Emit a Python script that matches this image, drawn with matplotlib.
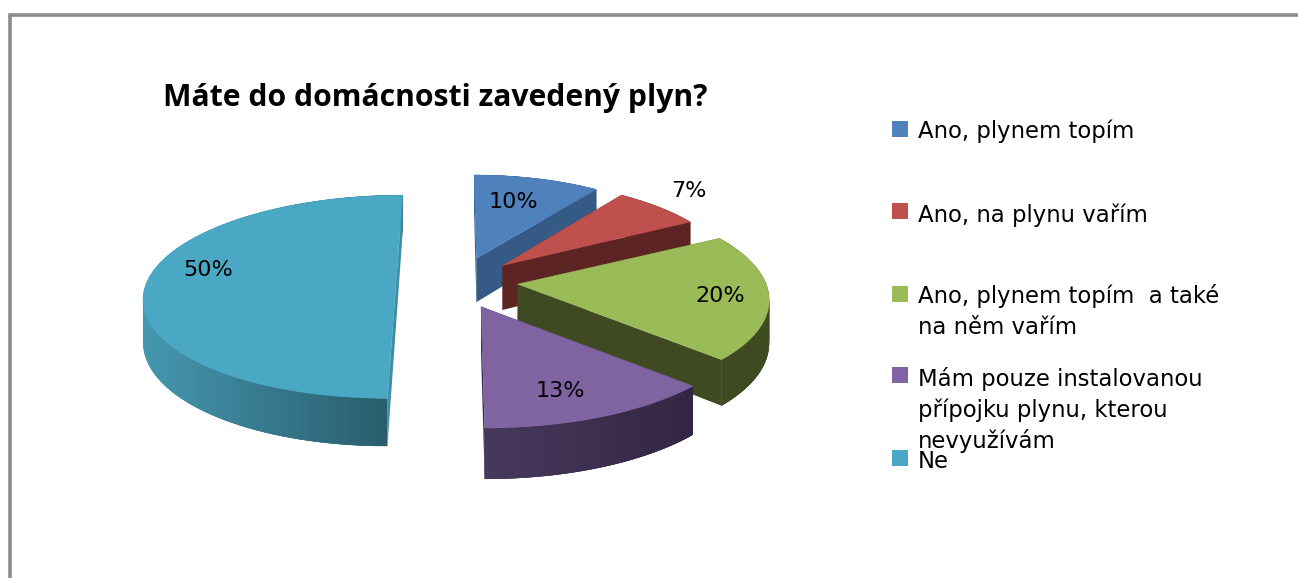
# ------------------------------------------------------------
# 3D exploded pie: Máte do domácnosti zavedený plyn?
# ------------------------------------------------------------
import numpy as np
import matplotlib
matplotlib.use("Agg")
import matplotlib.pyplot as plt
from matplotlib.colors import to_rgb

# ------------------------------------------------------------
# 1. Data
# ------------------------------------------------------------
title = "Máte do domácnosti zavedený plyn?"
values = [10, 7, 20, 13, 50]
legend_labels = [
    "Ano, plynem topím",
    "Ano, na plynu vařím",
    "Ano, plynem topím  a také\nna něm vařím",
    "Mám pouze instalovanou\npřípojku plynu, kterou\nnevyužívám",
    "Ne",
]

# ------------------------------------------------------------
# 2. Styles
# ------------------------------------------------------------
top_colors = ["#4f81bd", "#c0504d", "#9bbb59", "#8064a2", "#4aa8c4"]
cut_colors = ["#345a85", "#5c2422", "#404a22", "#3a2c50", "#3f8ea6"]
wall_light = ["#345a85", "#5c2422", "#404a22", "#46395e", "#4598b0"]
wall_dark = ["#345a85", "#5c2422", "#3e4a20", "#332642", "#285a69"]
explode = [0.29, 0.27, 0.25, 0.24, 0.24]
x_scale = [0.94, 0.94, 0.99, 1.02, 1.0]
shift_y = [0, -2, -4, -1, -1]
depth_scale = [1.08, 1.08, 1.0, 1.03, 1.0]

label_xy = [(513, 202), (689, 191), (720, 296), (560, 391), (208, 270)]
legend_square_y = [129, 211, 294, 375, 458]
legend_text_y = [138, 222, 303, 386, 468]

CX, CY = 456, 285     # pie centre in pixels
A, B = 250, 100       # radius across and along the view
K = 0.125             # perspective strength
DEPTH = 42            # pie height in pixels
FONT = "DejaVu Sans"


def project(x, y, z=0.0):
    s = 1 / (1 + K * y)
    return CX + A * x * s, CY - B * y * s + DEPTH * z * s


def mix(c1, c2, t):
    a, b = np.array(to_rgb(c1)), np.array(to_rgb(c2))
    return tuple(a + (b - a) * t)


# ------------------------------------------------------------
# 3. Figure
# ------------------------------------------------------------
fig = plt.figure(figsize=(12.98, 5.78), dpi=100)
ax = fig.add_axes([0, 0, 1, 1])
ax.set_xlim(0, 1298)
ax.set_ylim(578, 0)
ax.axis("off")

ax.plot([1298, 9.5, 9.5], [14.5, 14.5, 578], color="#8c8c8c", lw=2.6,
        solid_joinstyle="miter")

# ------------------------------------------------------------
# 4. Slices, back to front
# ------------------------------------------------------------
edges = np.cumsum([0] + values) / sum(values) * 2 * np.pi

for i in range(len(values)):
    start, end = edges[i], edges[i + 1]
    mid = (start + end) / 2
    ox = explode[i] * np.sin(mid) * x_scale[i]
    oy = explode[i] * np.cos(mid)
    t = np.linspace(start, end, 90)
    rx = ox + np.sin(t) * x_scale[i]
    ry = oy + np.cos(t)
    dy = shift_y[i]
    dz = depth_scale[i]

    # start cut face
    pz = np.array([0, 0, dz, dz])
    sx, sy = project(np.array([ox, rx[0], rx[0], ox]), np.array([oy, ry[0], ry[0], oy]), pz)
    ax.fill(sx, sy + dy, color=cut_colors[i], lw=0, zorder=2 + i * 5)

    # outer wall, shaded from left to right (each quad overlaps the next)
    top_x, top_y = project(rx, ry, 0.0)
    low_x, low_y = project(rx, ry, dz)
    x0, x1 = top_x.min(), top_x.max()
    for j in range(len(t) - 1):
        k = min(j + 3, len(t) - 1)
        f = (top_x[j] - x0) / max(x1 - x0, 1)
        ax.fill([top_x[j], top_x[k], low_x[k], low_x[j]],
                [top_y[j] + dy, top_y[k] + dy, low_y[k] + dy, low_y[j] + dy],
                color=mix(wall_light[i], wall_dark[i], f), lw=0, zorder=3 + i * 5)

    # end cut face
    sx, sy = project(np.array([ox, rx[-1], rx[-1], ox]), np.array([oy, ry[-1], ry[-1], oy]), pz)
    ax.fill(sx, sy + dy, color=cut_colors[i], lw=0, zorder=4 + i * 5)

    # top face
    apex_x, apex_y = project(ox, oy, 0.0)
    ax.fill(np.r_[apex_x, top_x], np.r_[apex_y, top_y] + dy, color=top_colors[i], lw=0.3,
            zorder=5 + i * 5)

    ax.text(label_xy[i][0], label_xy[i][1], f"{values[i]}%", family=FONT,
            fontsize=16, ha="center", va="center", color="black", zorder=60)

# ------------------------------------------------------------
# 5. Title and legend
# ------------------------------------------------------------
ax.text(163, 106, title, family="Open Sans", fontweight="bold", fontsize=21.7,
        ha="left", va="baseline", color="black")

for i, label in enumerate(legend_labels):
    ax.scatter([900], [legend_square_y[i]], marker="s", s=118, color=top_colors[i],
               linewidths=0, zorder=60)
    for n, line in enumerate(label.split("\n")):
        ax.text(918, legend_text_y[i] + n * 31, line, family=FONT, fontsize=16.4,
                ha="left", va="baseline", color="black")

fig.savefig("out.png", dpi=100)
